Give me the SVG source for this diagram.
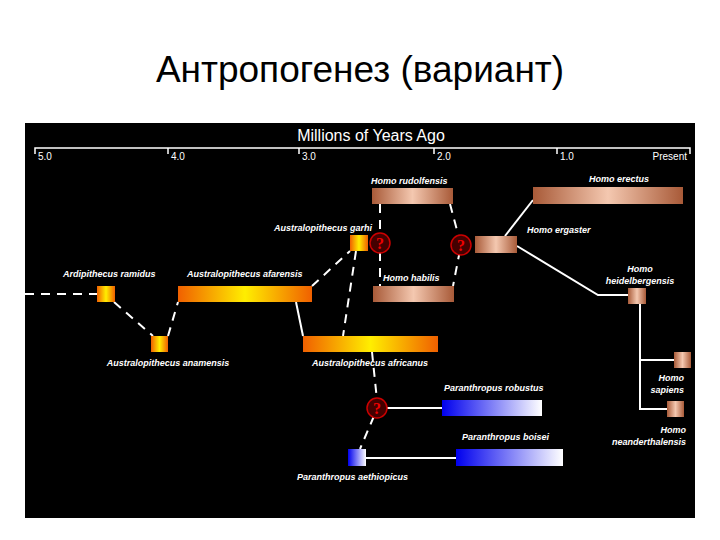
<svg xmlns="http://www.w3.org/2000/svg" width="720" height="540" viewBox="0 0 720 540">
<defs>
<linearGradient id="o" x1="0" x2="1"><stop offset="0" stop-color="#f06000"/><stop offset="0.5" stop-color="#ffee00"/><stop offset="1" stop-color="#f06000"/></linearGradient>
<linearGradient id="c" x1="0" x2="1"><stop offset="0" stop-color="#a85a38"/><stop offset="0.5" stop-color="#f4c8b0"/><stop offset="1" stop-color="#a85a38"/></linearGradient>
<linearGradient id="b" x1="0" x2="1"><stop offset="0" stop-color="#0000ee"/><stop offset="1" stop-color="#ffffff"/></linearGradient>
<style>
.l{font-family:"Liberation Sans",Arial,sans-serif;font-size:9px;font-style:italic;font-weight:bold;fill:#fff}
.ax{font-family:"Liberation Sans",Arial,sans-serif;font-size:10px;fill:#fff}
.s{stroke:#fff;stroke-width:2;fill:none}
.d{stroke:#fff;stroke-width:2;fill:none;stroke-dasharray:9 7}
.q{fill:#400;stroke:#c00;stroke-width:1.5}
.qt{font-family:"Liberation Serif",serif;font-size:16px;fill:#e00;font-weight:bold}
</style>
</defs>
<rect width="720" height="540" fill="#fff"/>
<text x="360" y="82" text-anchor="middle" font-family="Liberation Sans,Arial,sans-serif" font-size="37">Антропогенез (вариант)</text>
<rect x="25" y="123" width="670" height="395" fill="#000"/>
<g id="axis">
<text x="371" y="141" text-anchor="middle" font-family="Liberation Sans,Arial,sans-serif" font-size="16" fill="#fff">Millions of Years Ago</text>
<path d="M35 154V148H690V154M168 148V154M299 148V154M434 148V154M557 148V154" stroke="#fff" stroke-width="1.5" fill="none"/>
<text class="ax" x="38" y="160">5.0</text><text class="ax" x="171" y="160">4.0</text><text class="ax" x="302" y="160">3.0</text><text class="ax" x="437" y="160">2.0</text><text class="ax" x="560" y="160">1.0</text><text class="ax" x="687" y="160" text-anchor="end">Present</text>
</g>
<g id="connectors">
<path class="d" d="M25 294H97"/>
<path class="d" d="M114 302L153 336"/>
<path class="d" d="M168 336L178 302"/>
<path class="d" d="M312 286L350 251"/>
<path class="d" d="M356 251L343 336"/>
<path class="s" d="M296 302L303 336"/>
<path class="d" d="M380 204V286"/>
<path class="d" d="M450 204L461 245L453 286"/>
<path class="s" d="M505 236L533 200"/>
<path class="s" d="M517 246L598 295H628"/>
<path class="s" d="M640 304V409H667M640 360H674"/>
<path class="d" d="M372 352L377 400"/>
<path class="d" d="M374 416L360 449"/>
<path class="s" d="M387 408H442"/>
<path class="s" d="M366 458H456"/>
</g>
<g id="q1"><circle class="q" cx="380" cy="243" r="10"/><text class="qt" x="380" y="249" text-anchor="middle">?</text></g>
<g id="q2"><circle class="q" cx="461" cy="245" r="10"/><text class="qt" x="461" y="251" text-anchor="middle">?</text></g>
<g id="q3"><circle class="q" cx="377" cy="408" r="10"/><text class="qt" x="377" y="414" text-anchor="middle">?</text></g>
<g id="ramidus"><rect x="97" y="286" width="18" height="16" fill="url(#o)"/><text class="l" x="63" y="277">Ardipithecus ramidus</text></g>
<g id="afarensis"><rect x="178" y="286" width="134" height="16" fill="url(#o)"/><text class="l" x="187" y="277">Australopithecus afarensis</text></g>
<g id="anamensis"><rect x="151" y="336" width="17" height="16" fill="url(#o)"/><text class="l" x="168" y="366" text-anchor="middle">Australopithecus anamensis</text></g>
<g id="garhi"><rect x="350" y="235" width="18" height="16" fill="url(#o)"/><text class="l" x="372" y="231" text-anchor="end">Australopithecus garhi</text></g>
<g id="africanus"><rect x="303" y="336" width="135" height="16" fill="url(#o)"/><text class="l" x="312" y="366">Australopithecus africanus</text></g>
<g id="rudolfensis"><rect x="372" y="188" width="81" height="16" fill="url(#c)"/><text class="l" x="371" y="184">Homo rudolfensis</text></g>
<g id="habilis"><rect x="373" y="286" width="81" height="16" fill="url(#c)"/><text class="l" x="383" y="281">Homo habilis</text></g>
<g id="ergaster"><rect x="475" y="236" width="42" height="17" fill="url(#c)"/><text class="l" x="527" y="233">Homo ergaster</text></g>
<g id="erectus"><rect x="533" y="187" width="150" height="17" fill="url(#c)"/><text class="l" x="589" y="182">Homo erectus</text></g>
<g id="heidelbergensis"><rect x="628" y="288" width="18" height="16" fill="url(#c)"/><text class="l" x="640" y="272" text-anchor="middle">Homo</text><text class="l" x="640" y="284" text-anchor="middle">heidelbergensis</text></g>
<g id="sapiens"><rect x="674" y="352" width="17" height="16" fill="url(#c)"/><text class="l" x="684" y="381" text-anchor="end">Homo</text><text class="l" x="684" y="393" text-anchor="end">sapiens</text></g>
<g id="neanderthalensis"><rect x="667" y="401" width="17" height="16" fill="url(#c)"/><text class="l" x="686" y="433" text-anchor="end">Homo</text><text class="l" x="686" y="445" text-anchor="end">neanderthalensis</text></g>
<g id="robustus"><rect x="442" y="400" width="100" height="16" fill="url(#b)"/><text class="l" x="444" y="391">Paranthropus robustus</text></g>
<g id="boisei"><rect x="456" y="449" width="107" height="17" fill="url(#b)"/><text class="l" x="462" y="440">Paranthropus boisei</text></g>
<g id="aethiopicus"><rect x="348" y="449" width="18" height="17" fill="url(#b)"/><text class="l" x="297" y="480">Paranthropus aethiopicus</text></g>
</svg>
